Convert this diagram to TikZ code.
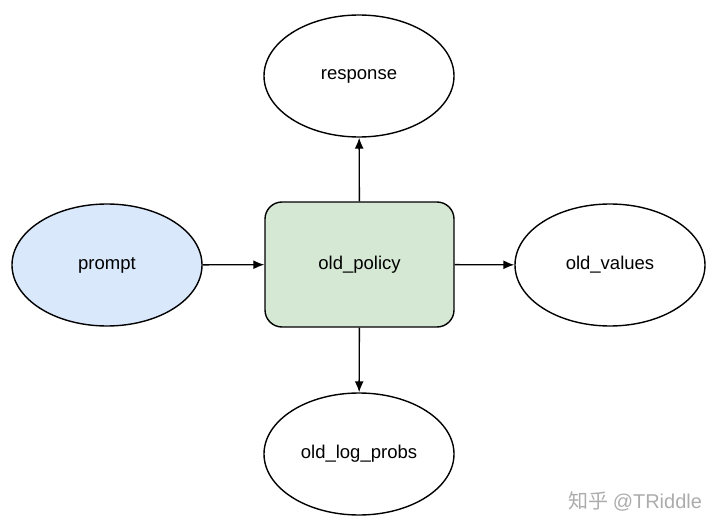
\documentclass[tikz,border=0pt]{standalone}
\usepackage{fontspec}
\setmainfont{Liberation Sans}
\newfontfamily\cjk{Noto Sans CJK SC}
\usetikzlibrary{shapes.geometric,arrows.meta}
\definecolor{blueFill}{HTML}{DAE8FC}
\definecolor{greenFill}{HTML}{D5E8D4}
\begin{document}
\begin{tikzpicture}[x=1pt, y=-1pt, font=\fontsize{18.5}{22}\selectfont, line width=1.4pt, >={Latex[length=11pt,width=9pt]},
	oval/.style={draw, ellipse, minimum width=190pt, minimum height=122pt},
	policybox/.style={draw, rounded corners=17pt, fill=greenFill, minimum width=189pt, minimum height=125pt}]
	\useasboundingbox (0,0) rectangle (720,532);
	\node[oval, fill=blueFill](prompt) at (107,265){prompt};
	\node[policybox](policy) at (359.5,264.5){old\_policy};
	\node[oval](response) at (359,76){response};
	\node[oval](values) at (610,265){old\_values};
	\node[oval](logprobs) at (359,454){old\_log\_probs};
	\draw[->](prompt)--(policy);
	\draw[->](policy)--(response);
	\draw[->](policy)--(values);
	\draw[->](policy)--(logprobs);
	\node[text=gray!65, anchor=east, font=\fontsize{20}{24}\selectfont](mark) at (706,501){\cjk 知乎\ \rmfamily @TRiddle};
\end{tikzpicture}
\end{document}
